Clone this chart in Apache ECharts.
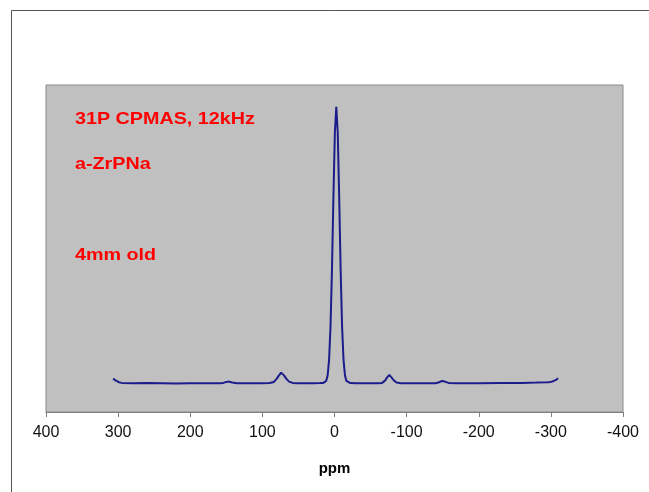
<!DOCTYPE html>
<html>
<head>
<meta charset="utf-8">
<script src="https://cdn.jsdelivr.net/npm/echarts@6/dist/echarts.min.js"></script>
<style>
html,body{margin:0;padding:0;background:#fff;}
#chart{width:649px;height:492px;}
</style>
</head>
<body>
<div id="chart"></div>
<script>
// Chemical shift (ppm) and intensity (arbitrary units)
const ppm = [307, 303, 299, 295, 280, 260, 240, 220, 200, 180, 160, 154, 150, 146, 142, 135, 120, 100, 90,
  84, 80, 77, 74, 72, 70, 67, 63, 58, 50, 40, 30, 20, 15.5,
  13.5, 11.5, 9.5, 7.5, 5.5, 3.5, 1.5, -0.5, -2.5, -4.5, -6.5, -8.5, -10.5, -12.5, -14.5, -16.5, -18.5,
  -22, -30, -40, -50, -60, -66, -70, -73, -76, -79, -82, -86, -92, -100, -120, -140, -145, -149, -153,
  -158, -170, -200, -230, -260, -280, -295, -300, -304, -307, -310];
const intensity = [10.2, 9.6, 9.1, 8.9, 8.8, 8.85, 8.8, 8.75, 8.8, 8.8, 8.8, 8.9, 9.2, 9.3, 9.0, 8.8, 8.8, 8.8, 8.85,
  9.2, 10.2, 11.2, 12.0, 11.9, 11.2, 10.2, 9.3, 8.9, 8.8, 8.8, 8.8, 8.85, 8.9,
  8.95, 9.5, 11.2, 16.0, 26.2, 43.5, 65.7, 85.4, 93.3, 85.4, 65.7, 43.5, 26.2, 16.0, 11.2, 9.5, 8.95,
  8.85, 8.8, 8.8, 8.8, 8.8, 8.9, 9.6, 10.6, 11.3, 10.6, 9.7, 9.0, 8.8, 8.8, 8.8, 8.8, 9.1, 9.5, 9.3,
  8.9, 8.8, 8.8, 8.85, 8.9, 9.0, 9.1, 9.2, 9.5, 9.8, 10.3];
const xTickMin = -400, xTickMax = 400, xTickStep = 100;
const labels = ['31P CPMAS, 12kHz', 'a-ZrPNa', '4mm old'];

const chart = echarts.init(document.getElementById('chart'), null, {renderer: 'canvas'});
const font = '"Liberation Sans", Arial, sans-serif';
function note(text, top) {
  return {type: 'text', x: 75, y: top, scaleX: 1.16, scaleY: 1,
    style: {text: text, fill: '#ff0000', font: 'bold 17px ' + font}};
}
chart.setOption({
  animation: false,
  backgroundColor: '#ffffff',
  grid: {left: 46, right: 26, top: 85, bottom: 80, show: true, backgroundColor: '#c0c0c0', borderColor: '#8a8a8a', borderWidth: 1},
  xAxis: {
    type: 'value', inverse: true, min: xTickMin, max: xTickMax, interval: xTickStep,
    name: 'ppm', nameLocation: 'middle', nameGap: 49,
    nameTextStyle: {fontFamily: font, fontWeight: 'bold', fontSize: 15, color: '#000'},
    axisLine: {show: true, lineStyle: {color: '#808080', width: 1}},
    axisTick: {show: true, inside: false, length: 5, lineStyle: {color: '#808080'}},
    axisLabel: {fontFamily: font, fontSize: 16, color: '#111', margin: 13},
    splitLine: {show: false}
  },
  yAxis: {
    type: 'value', min: 0, max: 100, show: false, splitLine: {show: false}
  },
  series: [{
    type: 'line', data: ppm.map((p, i) => [p, intensity[i]]),
    showSymbol: false, symbol: 'none',
    lineStyle: {color: '#1c1c8c', width: 2}
  }],
  graphic: [
    {type: 'rect', silent: true, shape: {x: 11.5, y: 10.5, width: 700, height: 600}, style: {fill: 'none', stroke: '#555', lineWidth: 1}},
    note(labels[0], 111),
    note(labels[1], 156),
    note(labels[2], 247)
  ]
});
</script>
</body>
</html>
